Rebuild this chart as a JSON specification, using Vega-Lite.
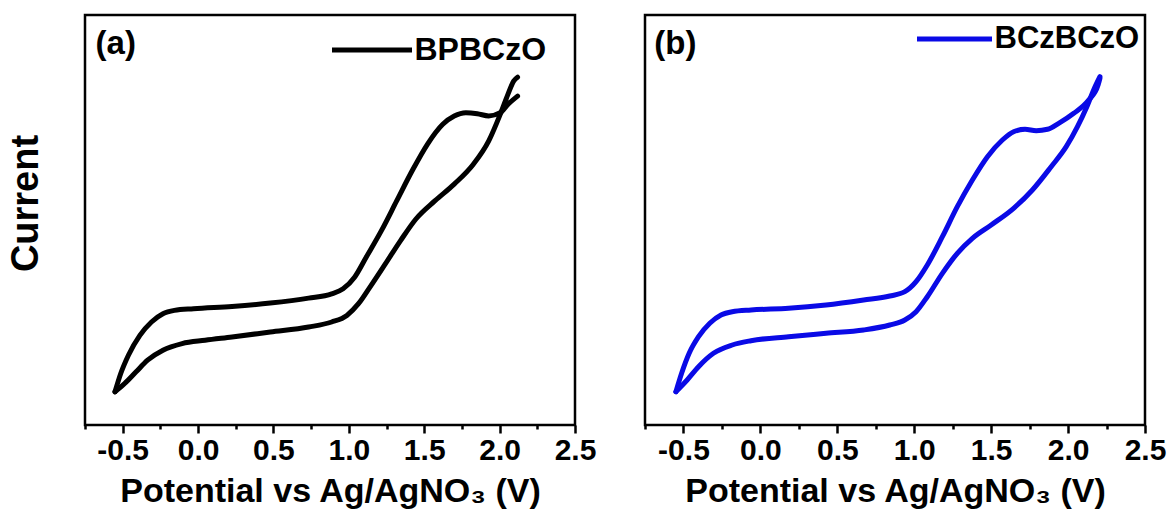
{
  "$schema": "https://vega.github.io/schema/vega-lite/v6.json",
  "padding": {"left": 5, "top": -3, "right": 0, "bottom": 0},
  "background": "white",
  "spacing": 70,
  "bounds": "flush",
  "config": {
    "view": {"stroke": "black", "strokeWidth": 2.5},
    "font": "Liberation Sans",
    "locale": {"number": {"decimal": ".", "thousands": ",", "grouping": [3], "currency": ["$", ""], "minus": "-"}}
  },
  "resolve": {"scale": {"color": "independent"}, "legend": {"color": "independent"}},
  "datasets": {
    "cv": [
      {"panel": "a", "series": "BPBCzO", "branch": "lower", "v": -0.551, "i": 33.2},
      {"panel": "a", "series": "BPBCzO", "branch": "lower", "v": -0.487, "i": 41.5},
      {"panel": "a", "series": "BPBCzO", "branch": "lower", "v": -0.411, "i": 53.2},
      {"panel": "a", "series": "BPBCzO", "branch": "lower", "v": -0.335, "i": 64.8},
      {"panel": "a", "series": "BPBCzO", "branch": "lower", "v": -0.233, "i": 74.8},
      {"panel": "a", "series": "BPBCzO", "branch": "lower", "v": -0.106, "i": 81.4},
      {"panel": "a", "series": "BPBCzO", "branch": "lower", "v": 0.047, "i": 84.7},
      {"panel": "a", "series": "BPBCzO", "branch": "lower", "v": 0.225, "i": 88.0},
      {"panel": "a", "series": "BPBCzO", "branch": "lower", "v": 0.479, "i": 93.0},
      {"panel": "a", "series": "BPBCzO", "branch": "lower", "v": 0.733, "i": 98.0},
      {"panel": "a", "series": "BPBCzO", "branch": "lower", "v": 0.886, "i": 103.0},
      {"panel": "a", "series": "BPBCzO", "branch": "lower", "v": 0.987, "i": 109.6},
      {"panel": "a", "series": "BPBCzO", "branch": "lower", "v": 1.064, "i": 121.3},
      {"panel": "a", "series": "BPBCzO", "branch": "lower", "v": 1.140, "i": 137.9},
      {"panel": "a", "series": "BPBCzO", "branch": "lower", "v": 1.242, "i": 161.1},
      {"panel": "a", "series": "BPBCzO", "branch": "lower", "v": 1.343, "i": 184.4},
      {"panel": "a", "series": "BPBCzO", "branch": "lower", "v": 1.445, "i": 206.0},
      {"panel": "a", "series": "BPBCzO", "branch": "lower", "v": 1.572, "i": 224.3},
      {"panel": "a", "series": "BPBCzO", "branch": "lower", "v": 1.699, "i": 240.9},
      {"panel": "a", "series": "BPBCzO", "branch": "lower", "v": 1.826, "i": 260.8},
      {"panel": "a", "series": "BPBCzO", "branch": "lower", "v": 1.928, "i": 284.1},
      {"panel": "a", "series": "BPBCzO", "branch": "lower", "v": 2.004, "i": 310.6},
      {"panel": "a", "series": "BPBCzO", "branch": "lower", "v": 2.055, "i": 330.6},
      {"panel": "a", "series": "BPBCzO", "branch": "lower", "v": 2.093, "i": 343.9},
      {"panel": "a", "series": "BPBCzO", "branch": "lower", "v": 2.119, "i": 347.8},

      {"panel": "a", "series": "BPBCzO", "branch": "upper", "v": -0.551, "i": 33.2},
      {"panel": "a", "series": "BPBCzO", "branch": "upper", "v": -0.513, "i": 51.5},
      {"panel": "a", "series": "BPBCzO", "branch": "upper", "v": -0.462, "i": 69.8},
      {"panel": "a", "series": "BPBCzO", "branch": "upper", "v": -0.386, "i": 89.7},
      {"panel": "a", "series": "BPBCzO", "branch": "upper", "v": -0.309, "i": 103.0},
      {"panel": "a", "series": "BPBCzO", "branch": "upper", "v": -0.233, "i": 111.3},
      {"panel": "a", "series": "BPBCzO", "branch": "upper", "v": -0.157, "i": 114.6},
      {"panel": "a", "series": "BPBCzO", "branch": "upper", "v": -0.030, "i": 116.3},
      {"panel": "a", "series": "BPBCzO", "branch": "upper", "v": 0.225, "i": 118.6},
      {"panel": "a", "series": "BPBCzO", "branch": "upper", "v": 0.479, "i": 121.9},
      {"panel": "a", "series": "BPBCzO", "branch": "upper", "v": 0.733, "i": 126.9},
      {"panel": "a", "series": "BPBCzO", "branch": "upper", "v": 0.886, "i": 131.2},
      {"panel": "a", "series": "BPBCzO", "branch": "upper", "v": 0.962, "i": 136.2},
      {"panel": "a", "series": "BPBCzO", "branch": "upper", "v": 1.038, "i": 147.8},
      {"panel": "a", "series": "BPBCzO", "branch": "upper", "v": 1.115, "i": 167.8},
      {"panel": "a", "series": "BPBCzO", "branch": "upper", "v": 1.216, "i": 194.4},
      {"panel": "a", "series": "BPBCzO", "branch": "upper", "v": 1.318, "i": 224.3},
      {"panel": "a", "series": "BPBCzO", "branch": "upper", "v": 1.420, "i": 254.2},
      {"panel": "a", "series": "BPBCzO", "branch": "upper", "v": 1.521, "i": 280.7},
      {"panel": "a", "series": "BPBCzO", "branch": "upper", "v": 1.623, "i": 300.7},
      {"panel": "a", "series": "BPBCzO", "branch": "upper", "v": 1.699, "i": 309.0},
      {"panel": "a", "series": "BPBCzO", "branch": "upper", "v": 1.776, "i": 312.3},
      {"panel": "a", "series": "BPBCzO", "branch": "upper", "v": 1.852, "i": 311.3},
      {"panel": "a", "series": "BPBCzO", "branch": "upper", "v": 1.928, "i": 309.0},
      {"panel": "a", "series": "BPBCzO", "branch": "upper", "v": 2.004, "i": 312.3},
      {"panel": "a", "series": "BPBCzO", "branch": "upper", "v": 2.055, "i": 320.6},
      {"panel": "a", "series": "BPBCzO", "branch": "upper", "v": 2.119, "i": 328.9},

      {"panel": "b", "series": "BCzBCzO", "branch": "lower", "v": -0.549, "i": 33.3},
      {"panel": "b", "series": "BCzBCzO", "branch": "lower", "v": -0.476, "i": 45.0},
      {"panel": "b", "series": "BCzBCzO", "branch": "lower", "v": -0.402, "i": 58.3},
      {"panel": "b", "series": "BCzBCzO", "branch": "lower", "v": -0.305, "i": 71.7},
      {"panel": "b", "series": "BCzBCzO", "branch": "lower", "v": -0.183, "i": 80.0},
      {"panel": "b", "series": "BCzBCzO", "branch": "lower", "v": -0.061, "i": 84.3},
      {"panel": "b", "series": "BCzBCzO", "branch": "lower", "v": 0.183, "i": 88.3},
      {"panel": "b", "series": "BCzBCzO", "branch": "lower", "v": 0.427, "i": 91.7},
      {"panel": "b", "series": "BCzBCzO", "branch": "lower", "v": 0.671, "i": 95.0},
      {"panel": "b", "series": "BCzBCzO", "branch": "lower", "v": 0.841, "i": 100.0},
      {"panel": "b", "series": "BCzBCzO", "branch": "lower", "v": 0.939, "i": 105.0},
      {"panel": "b", "series": "BCzBCzO", "branch": "lower", "v": 1.012, "i": 113.3},
      {"panel": "b", "series": "BCzBCzO", "branch": "lower", "v": 1.085, "i": 128.3},
      {"panel": "b", "series": "BCzBCzO", "branch": "lower", "v": 1.183, "i": 151.7},
      {"panel": "b", "series": "BCzBCzO", "branch": "lower", "v": 1.280, "i": 171.7},
      {"panel": "b", "series": "BCzBCzO", "branch": "lower", "v": 1.378, "i": 186.7},
      {"panel": "b", "series": "BCzBCzO", "branch": "lower", "v": 1.500, "i": 200.0},
      {"panel": "b", "series": "BCzBCzO", "branch": "lower", "v": 1.646, "i": 216.7},
      {"panel": "b", "series": "BCzBCzO", "branch": "lower", "v": 1.768, "i": 235.0},
      {"panel": "b", "series": "BCzBCzO", "branch": "lower", "v": 1.890, "i": 258.3},
      {"panel": "b", "series": "BCzBCzO", "branch": "lower", "v": 1.988, "i": 278.3},
      {"panel": "b", "series": "BCzBCzO", "branch": "lower", "v": 2.061, "i": 298.3},
      {"panel": "b", "series": "BCzBCzO", "branch": "lower", "v": 2.122, "i": 318.3},
      {"panel": "b", "series": "BCzBCzO", "branch": "lower", "v": 2.171, "i": 336.7},
      {"panel": "b", "series": "BCzBCzO", "branch": "lower", "v": 2.207, "i": 348.3},

      {"panel": "b", "series": "BCzBCzO", "branch": "upper", "v": -0.549, "i": 33.3},
      {"panel": "b", "series": "BCzBCzO", "branch": "upper", "v": -0.512, "i": 51.7},
      {"panel": "b", "series": "BCzBCzO", "branch": "upper", "v": -0.463, "i": 71.7},
      {"panel": "b", "series": "BCzBCzO", "branch": "upper", "v": -0.402, "i": 88.3},
      {"panel": "b", "series": "BCzBCzO", "branch": "upper", "v": -0.329, "i": 101.7},
      {"panel": "b", "series": "BCzBCzO", "branch": "upper", "v": -0.256, "i": 110.0},
      {"panel": "b", "series": "BCzBCzO", "branch": "upper", "v": -0.183, "i": 113.3},
      {"panel": "b", "series": "BCzBCzO", "branch": "upper", "v": -0.061, "i": 115.0},
      {"panel": "b", "series": "BCzBCzO", "branch": "upper", "v": 0.183, "i": 116.7},
      {"panel": "b", "series": "BCzBCzO", "branch": "upper", "v": 0.427, "i": 120.0},
      {"panel": "b", "series": "BCzBCzO", "branch": "upper", "v": 0.671, "i": 125.0},
      {"panel": "b", "series": "BCzBCzO", "branch": "upper", "v": 0.841, "i": 129.0},
      {"panel": "b", "series": "BCzBCzO", "branch": "upper", "v": 0.939, "i": 133.3},
      {"panel": "b", "series": "BCzBCzO", "branch": "upper", "v": 1.012, "i": 143.3},
      {"panel": "b", "series": "BCzBCzO", "branch": "upper", "v": 1.085, "i": 160.0},
      {"panel": "b", "series": "BCzBCzO", "branch": "upper", "v": 1.183, "i": 188.3},
      {"panel": "b", "series": "BCzBCzO", "branch": "upper", "v": 1.280, "i": 218.3},
      {"panel": "b", "series": "BCzBCzO", "branch": "upper", "v": 1.378, "i": 245.0},
      {"panel": "b", "series": "BCzBCzO", "branch": "upper", "v": 1.476, "i": 268.3},
      {"panel": "b", "series": "BCzBCzO", "branch": "upper", "v": 1.573, "i": 285.0},
      {"panel": "b", "series": "BCzBCzO", "branch": "upper", "v": 1.646, "i": 293.3},
      {"panel": "b", "series": "BCzBCzO", "branch": "upper", "v": 1.720, "i": 295.7},
      {"panel": "b", "series": "BCzBCzO", "branch": "upper", "v": 1.793, "i": 294.3},
      {"panel": "b", "series": "BCzBCzO", "branch": "upper", "v": 1.866, "i": 295.7},
      {"panel": "b", "series": "BCzBCzO", "branch": "upper", "v": 1.939, "i": 301.7},
      {"panel": "b", "series": "BCzBCzO", "branch": "upper", "v": 2.037, "i": 311.7},
      {"panel": "b", "series": "BCzBCzO", "branch": "upper", "v": 2.134, "i": 325.0},
      {"panel": "b", "series": "BCzBCzO", "branch": "upper", "v": 2.195, "i": 340.0},
      {"panel": "b", "series": "BCzBCzO", "branch": "upper", "v": 2.207, "i": 346.7}
    ]
  },
  "hconcat": [
    {
      "width": 490,
      "height": 410,
      "resolve": {"axis": {"x": "independent"}},
      "layer": [
        {
          "data": {"name": "cv"},
          "transform": [{"filter": "datum.panel === 'a'"}],
          "mark": {"type": "line", "strokeWidth": 5, "strokeCap": "round", "strokeJoin": "round", "interpolate": "monotone"},
          "encoding": {
            "x": {
              "field": "v", "type": "quantitative",
              "scale": {"domain": [-0.75, 2.5], "nice": false, "zero": false},
              "axis": {
                "orient": "bottom",
                "values": [-0.5, 0, 0.5, 1, 1.5, 2, 2.5],
                "format": ".1f",
                "tickSize": 8, "tickWidth": 2.5, "tickColor": "black",
                "domain": false, "grid": false,
                "labelFont": "Liberation Sans", "labelFontSize": 30, "labelFontWeight": "bold", "labelColor": "black",
                "labelPadding": 2, "labelFlush": false, "labelOverlap": false,
                "title": "Potential vs Ag/AgNO₃ (V)",
                "titleFont": "Liberation Sans", "titleFontSize": 34, "titleFontWeight": "bold", "titleColor": "black",
                "titlePadding": 9
              }
            },
            "y": {
              "field": "i", "type": "quantitative",
              "scale": {"domain": [0, 410], "nice": false, "zero": false},
              "axis": {
                "title": "Current", "labels": false, "ticks": false, "domain": false, "grid": false,
                "titleFont": "Liberation Sans", "titleFontSize": 38, "titleFontWeight": "bold", "titleColor": "black",
                "titlePadding": 40, "titleY": 188
              }
            },
            "detail": {"field": "branch", "type": "nominal"},
            "color": {
              "field": "series", "type": "nominal",
              "scale": {"domain": ["BPBCzO"], "range": ["#000000"]},
              "legend": {
                "title": null, "orient": "none", "legendX": 244.5, "legendY": -7.5, "padding": 0,
                "symbolType": "stroke", "symbolSize": 6400, "symbolStrokeWidth": 5,
                "labelFont": "Liberation Sans", "labelFontSize": 32, "labelFontWeight": "bold", "labelColor": "black",
                "labelOffset": 0
              }
            }
          }
        },
        {
          "data": {"values": [{}]},
          "mark": {"type": "text", "text": "(a)", "font": "Liberation Sans", "fontSize": 33, "fontWeight": "bold", "align": "left", "baseline": "middle", "color": "black"},
          "encoding": {
            "x": {
              "datum": -0.68, "type": "quantitative",
              "axis": {
                "orient": "bottom", "title": null,
                "values": [-0.75, -0.25, 0.25, 0.75, 1.25, 1.75, 2.25],
                "labels": false, "tickSize": 4, "tickWidth": 2.5, "tickColor": "black",
                "domain": false, "grid": false
              }
            },
            "y": {"datum": 381, "type": "quantitative"}
          }
        }
      ]
    },
    {
      "width": 500,
      "height": 410,
      "resolve": {"axis": {"x": "independent"}},
      "layer": [
        {
          "data": {"name": "cv"},
          "transform": [{"filter": "datum.panel === 'b'"}],
          "mark": {"type": "line", "strokeWidth": 5, "strokeCap": "round", "strokeJoin": "round", "interpolate": "monotone"},
          "encoding": {
            "x": {
              "field": "v", "type": "quantitative",
              "scale": {"domain": [-0.75, 2.5], "nice": false, "zero": false},
              "axis": {
                "orient": "bottom",
                "values": [-0.5, 0, 0.5, 1, 1.5, 2, 2.5],
                "format": ".1f",
                "tickSize": 8, "tickWidth": 2.5, "tickColor": "black",
                "domain": false, "grid": false,
                "labelFont": "Liberation Sans", "labelFontSize": 30, "labelFontWeight": "bold", "labelColor": "black",
                "labelPadding": 2, "labelFlush": false, "labelOverlap": false,
                "title": "Potential vs Ag/AgNO₃ (V)",
                "titleFont": "Liberation Sans", "titleFontSize": 34, "titleFontWeight": "bold", "titleColor": "black",
                "titlePadding": 9
              }
            },
            "y": {
              "field": "i", "type": "quantitative",
              "scale": {"domain": [0, 410], "nice": false, "zero": false},
              "axis": null
            },
            "detail": {"field": "branch", "type": "nominal"},
            "color": {
              "field": "series", "type": "nominal",
              "scale": {"domain": ["BCzBCzO"], "range": ["#0a0ae6"]},
              "legend": {
                "title": null, "orient": "none", "legendX": 269.5, "legendY": -16, "padding": 0,
                "symbolType": "stroke", "symbolSize": 5625, "symbolStrokeWidth": 5,
                "labelFont": "Liberation Sans", "labelFontSize": 31, "labelFontWeight": "bold", "labelColor": "black",
                "labelOffset": 0
              }
            }
          }
        },
        {
          "data": {"values": [{}]},
          "mark": {"type": "text", "text": "(b)", "font": "Liberation Sans", "fontSize": 33, "fontWeight": "bold", "align": "left", "baseline": "middle", "color": "black"},
          "encoding": {
            "x": {
              "datum": -0.69, "type": "quantitative",
              "axis": {
                "orient": "bottom", "title": null,
                "values": [-0.75, -0.25, 0.25, 0.75, 1.25, 1.75, 2.25],
                "labels": false, "tickSize": 4, "tickWidth": 2.5, "tickColor": "black",
                "domain": false, "grid": false
              }
            },
            "y": {"datum": 381, "type": "quantitative"}
          }
        }
      ]
    }
  ]
}
